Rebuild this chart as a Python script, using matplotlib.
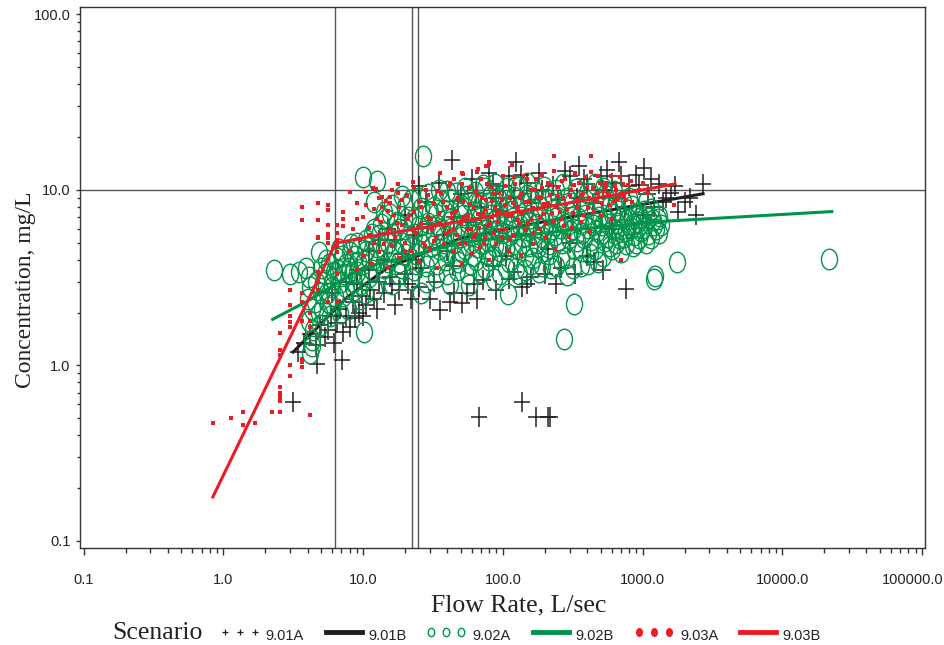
import numpy as np
import matplotlib
matplotlib.use("Agg")
import matplotlib.pyplot as plt
from matplotlib.path import Path
from matplotlib.transforms import Affine2D, ScaledTranslation
from matplotlib.lines import Line2D
from matplotlib.ticker import FixedLocator, FixedFormatter, NullFormatter

# ---- data ----
# 9.01A : black plus
plus_pts = [
    (3.13, 0.62), (4.7, 1.02), (7.1, 1.07), (68, 0.51), (138, 0.62), (174, 0.51),
    (212, 0.51), (218, 0.51), (766, 2.72), (43, 14.7), (125, 14.5), (683, 14.5),
    (353, 13.6), (1030, 13.3), (2710, 10.8), (2430, 7.2), (1480, 9.0),
    (3.4, 1.2), (3.8, 1.35), (4.2, 1.5), (4.6, 1.3), (4.9, 1.7), (5.3, 1.45),
    (5.6, 1.6), (5.9, 1.9), (6.2, 1.35), (6.5, 1.75), (6.8, 2.1), (7.2, 1.55),
    (7.6, 1.9), (8.0, 1.65), (8.4, 2.3), (8.8, 1.85), (9.3, 2.0), (9.8, 2.5),
    (10.5, 2.2), (11.2, 2.7), (12, 2.4), (13, 3.0), (14, 2.6), (16, 2.9),
    (17, 2.2), (18, 2.7), (20, 3.3), (22, 2.4), (25, 2.8), (30, 2.4), (35.5, 2.07),
    (42, 2.3), (51, 2.27), (55, 2.6), (62, 2.9), (72, 3.07), (90, 2.7),
    (110, 3.1), (138, 2.8), (150, 2.9), (200, 3.3), (260, 3.6), (330, 3.3),
    (450, 3.9), (25, 10.5), (35, 11.0), (50, 9.5), (60, 11.5), (80, 12.5),
    (100, 10.5), (110, 12.0), (150, 11.0), (180, 12.5), (230, 10.5), (300, 12.0),
    (400, 10.8), (500, 12.0), (600, 11.0), (800, 10.5), (900, 12.2), (1100, 9.5),
    (1300, 10.8), (1600, 9.6), (2000, 8.5), (1800, 7.5), (1200, 8.0),
    (15, 6.0), (20, 7.2), (28, 8.5), (45, 7.0), (70, 8.0), (90, 9.0),
    (11, 4.5), (13, 5.2), (9, 3.5), (7.5, 3.0), (6, 2.6), (24, 4.0), (40, 4.5),
    (9, 2.9), (10, 1.9), (11, 3.5), (12.5, 2.1), (14, 4.0), (15.5, 3.2), (17, 5.2),
    (19, 4.3), (21, 2.9), (23, 5.5), (26, 3.6), (29, 6.4), (32, 3.0), (38, 5.5),
    (44, 3.7), (48, 8.6), (56, 6.6), (64, 9.6), (75, 5.6), (85, 10.8), (95, 7.6),
    (105, 4.2), (120, 9.0), (135, 12.2), (160, 8.4), (190, 10.0), (210, 4.6),
    (250, 8.8), (280, 12.8), (340, 9.0), (380, 11.5), (440, 8.4), (520, 10.0),
    (560, 13.0), (650, 9.0), (700, 12.0), (750, 8.0), (950, 10.6), (1150, 11.5),
    (1400, 8.5), (1700, 10.5), (2200, 9.0), (1000, 7.2), (600, 6.0), (300, 5.0),
    (520, 3.5), (400, 4.2), (240, 2.9), (160, 3.2), (120, 3.4), (85, 3.7),
    (65, 2.4), (45, 2.6),
]
# 9.01B : black line
black_line_x = [3.15, 7.7, 15, 50, 200, 605, 2710]
black_line_y = [1.19, 2.45, 3.6, 5.3, 6.6, 7.7, 9.5]

# 9.02A : green circles
circ_pts = [
    (2.3, 3.5), (3.0, 3.3), (3.5, 3.4), (3.9, 3.6), (4.1, 3.2), (4.2, 2.8), (4.0, 2.4),
    (4.3, 2.1), (4.1, 1.8), (4.4, 1.6), (4.3, 1.4), (4.17, 1.18), (4.3, 1.29),
    (4.8, 2.0), (5.0, 2.6), (5.2, 3.0), (5.0, 3.6), (5.4, 4.0), (4.8, 4.4),
    (5.6, 2.3), (5.8, 1.9), (6.0, 2.8), (6.2, 3.4), (6.5, 4.1), (6.7, 4.6),
    (7.0, 3.0), (7.2, 2.5), (7.5, 3.8), (7.8, 2.1), (8.0, 4.4), (8.3, 3.3),
    (8.6, 2.7), (9.0, 5.0), (9.2, 3.9), (9.5, 2.4), (10.0, 11.8), (12.5, 11.3),
    (10.2, 1.55), (10.5, 4.5), (11, 3.2), (11.5, 5.6), (12, 2.7),
    (13, 4.0), (13.5, 6.4), (14, 3.3), (15, 5.0), (15.5, 7.3), (16, 2.9),
    (17, 4.4), (18, 6.0), (19, 3.6), (20, 8.0), (21, 5.2), (22, 3.1), (23, 6.8),
    (24, 4.3), (25, 9.0), (26, 2.6), (27, 15.5), (27, 5.8), (28, 3.7), (30, 7.5),
    (31, 4.8), (33, 3.2), (34, 6.3), (36, 8.6), (37, 5.3), (39, 4.0), (40, 9.8),
    (42, 2.9), (43, 6.9), (45, 5.0), (47, 3.5), (49, 7.9), (51, 4.4), (53, 6.0),
    (55, 9.2), (57.7, 2.86), (58, 3.8), (60, 5.5), (62, 7.2), (65, 4.7), (68, 8.5),
    (70, 3.4), (72, 6.3), (75, 10.2), (78, 5.1), (80, 4.0), (83, 7.6), (86, 3.1),
    (90, 6.8), (93, 9.0), (96, 4.5), (100, 5.7), (105, 3.6), (108, 2.55),
    (110, 8.2), (115, 6.2), (120, 4.9), (125, 10.5), (130, 3.3), (135, 7.0),
    (140, 5.4), (145, 4.2), (150, 9.3), (155, 6.5), (160, 3.8), (168, 7.8),
    (175, 5.0), (180, 3.4), (188, 6.0), (195, 8.8), (200, 4.5), (210, 5.7),
    (220, 3.6), (230, 7.2), (240, 10.0), (250, 5.2), (260, 4.0), (270, 6.6),
    (275, 1.42), (290, 3.27), (300, 5.8), (310, 8.4), (324, 2.23), (330, 4.6),
    (345, 6.9), (360, 3.7), (380, 5.3), (400, 9.6), (420, 4.3), (440, 6.3),
    (460, 7.7), (480, 3.9), (500, 5.6), (520, 10.3), (550, 6.8), (580, 4.8),
    (610, 6.0), (640, 8.2), (680, 5.3), (720, 7.0), (760, 5.8), (800, 9.0),
    (850, 6.4), (900, 5.0), (950, 7.3), (1000, 6.1), (1050, 8.5), (1100, 5.6),
    (1180, 6.7), (1236, 3.22), (1200, 3.1), (1250, 6.0), (1300, 7.1), (1320, 5.7),
    (1750, 3.87), (21700, 4.03),
    (10.5, 5.2), (11, 4.1), (11.5, 3.5), (12, 6.0), (12.5, 4.7), (13, 5.5),
    (14, 4.6), (14.5, 6.8), (15, 3.9), (16, 5.6), (16.5, 4.5), (17.5, 6.6),
    (18, 3.9), (19, 5.0), (20, 4.3), (20, 6.0), (21, 7.0), (22, 4.7), (23, 5.6),
    (24, 3.8), (25, 6.2), (26, 4.9), (28, 5.3), (29, 6.5), (30, 4.2), (32, 5.6),
    (33, 7.3), (35, 4.6), (36, 6.0), (38, 5.0), (40, 4.4), (41, 6.6), (44, 5.8),
    (46, 4.1), (48, 6.2), (50, 5.4), (52, 7.2), (54, 4.6), (56, 6.5), (59, 5.0),
    (61, 4.2), (63, 6.1), (66, 5.6), (69, 6.9), (71, 4.9), (74, 5.9), (77, 4.3),
    (79, 6.8), (82, 5.4), (85, 6.2), (88, 4.8), (92, 5.9), (95, 7.2), (98, 5.0),
    (102, 6.5), (106, 4.6), (112, 5.5), (118, 6.9), (122, 5.9), (128, 4.6),
    (133, 6.3), (138, 5.0), (143, 7.5), (148, 5.9), (153, 4.8), (158, 6.9),
    (165, 5.6), (172, 6.4), (178, 4.7), (185, 7.0), (192, 5.4), (205, 6.5),
    (215, 4.9), (225, 6.0), (235, 5.5), (245, 7.0), (255, 6.1), (265, 5.0),
    (280, 6.4), (295, 5.3), (305, 7.0), (320, 6.0), (340, 5.1), (355, 6.5),
    (370, 5.7), (390, 7.2), (410, 6.1), (430, 5.2), (450, 6.6), (470, 5.8),
    (490, 7.0), (510, 6.3), (540, 5.1), (570, 6.4), (600, 7.3), (630, 5.6),
    (660, 6.5), (700, 6.0), (740, 5.4), (780, 6.8), (820, 6.1), (870, 5.5),
    (920, 6.6), (980, 5.8),
    (4.5, 2.3), (4.6, 3.0), (4.9, 1.7), (5.1, 2.1), (5.3, 3.3), (5.5, 2.6),
    (5.7, 3.8), (5.9, 2.2), (6.1, 3.1), (6.3, 2.5), (6.6, 3.5), (6.8, 2.0),
    (7.1, 4.2), (7.3, 3.3), (7.6, 2.8), (7.9, 3.6), (8.2, 4.9), (8.5, 3.0),
    (8.8, 4.2), (9.1, 3.4), (9.4, 4.6), (9.7, 2.9), (10, 3.8), (10.3, 2.6),
    (12, 8.5), (14, 7.5), (16, 8.2), (19, 9.2), (22, 8.8), (26, 7.9), (29, 9.5),
    (32, 8.0), (35, 10.0), (38, 7.7), (42, 8.9), (46, 9.6), (50, 8.2), (54, 10.3),
    (58, 8.8), (63, 9.7), (67, 7.5), (72, 10.6), (77, 8.4), (82, 9.3), (88, 10.8),
    (94, 8.0), (100, 9.4), (107, 10.2), (114, 7.6), (121, 9.1), (130, 10.4),
    (139, 8.4), (148, 10.9), (158, 8.8), (170, 9.7), (182, 8.1), (196, 10.4),
    (212, 8.7), (228, 9.4), (248, 8.0), (268, 10.8), (290, 9.0), (315, 7.6),
    (335, 10.1), (365, 8.6), (395, 8.0), (425, 9.5), (455, 10.8), (495, 8.7),
    (535, 9.4), (575, 8.0), (620, 9.9), (670, 7.6), (720, 8.6), (780, 7.7),
    (840, 8.1), (900, 7.3), (960, 6.9), (1020, 7.6), (1100, 6.9), (1150, 7.8),
    (1200, 6.3), (1280, 6.8), (1350, 6.3),
    (14, 3.6), (18, 3.3), (23, 3.5), (28, 3.0), (34, 3.8), (40, 3.3), (48, 3.9),
    (56, 3.3), (64, 4.0), (75, 3.6), (85, 4.2), (95, 3.3), (110, 3.9), (125, 3.6),
    (145, 3.5), (165, 4.1), (190, 3.7), (215, 4.3), (240, 3.7), (285, 4.1),
    (320, 3.6), (370, 4.5), (410, 3.8), (460, 4.6), (520, 4.2), (560, 5.4),
    (600, 4.6), (650, 5.0), (700, 4.4), (760, 4.9), (860, 4.8), (950, 5.3),
    (1050, 5.0), (1150, 5.3),
]
# 9.02B : green line
green_line_x = [2.25, 3.94, 10, 50, 300, 1334, 22600]
green_line_y = [1.83, 2.31, 3.6, 5.0, 5.9, 6.6, 7.52]

# 9.03A : red dots
dot_pts = [
    (0.84, 0.47), (1.13, 0.5), (1.39, 0.54), (1.39, 0.46), (1.67, 0.47), (2.21, 0.54),
    (2.55, 0.54), (2.55, 0.63), (2.55, 0.66), (2.55, 0.70), (2.55, 0.75),
    (2.55, 1.15), (2.55, 1.23), (2.55, 1.53), (3.0, 0.87), (3.0, 1.0), (3.0, 1.65),
    (3.0, 1.77), (3.0, 1.9), (3.0, 2.2), (3.0, 2.69), (3.66, 0.98), (3.66, 1.04),
    (3.66, 1.09), (3.66, 1.8), (3.66, 2.3), (3.66, 2.6), (4.2, 0.52), (4.17, 1.65),
    (4.17, 1.8), (4.17, 2.0), (4.75, 2.7), (4.75, 3.0), (4.75, 3.4), (4.75, 5.4),
    (5.6, 5.0), (5.6, 5.3), (5.6, 5.6), (6.5, 4.4), (6.5, 4.8), (6.5, 3.3),
    (6.5, 2.3), (5.6, 2.3), (3.63, 8.0), (3.63, 6.7), (4.75, 8.4), (4.75, 6.7),
    (4.75, 5.3), (5.6, 8.2), (5.6, 7.7), (5.6, 6.3), (8.05, 9.75), (6.5, 6.3),
    (6.5, 5.7), (6.5, 5.2), (7.2, 7.5), (7.2, 6.8), (7.2, 6.2), (9.1, 8.4),
    (10.5, 9.75), (11.8, 10.2), (12.3, 10.1), (13.7, 9.1), (13.7, 8.0),
    (15.5, 9.1), (15.5, 8.4), (17.7, 10.8), (17.7, 9.6), (22.7, 11.1),
    (35.5, 12.5), (52, 12.3), (65, 12.6), (79, 14.1),
    (8, 4.5), (8.5, 6.0), (9, 3.5), (9.5, 5.2), (10, 7.0), (10, 4.2), (11, 6.1),
    (11.5, 3.8), (12, 5.0), (12, 7.8), (13, 4.4), (13.5, 6.6), (14, 5.6),
    (14.5, 8.6), (15, 3.6), (15.5, 6.0), (16, 4.8), (16.5, 7.2), (17, 5.4),
    (18, 8.0), (18.5, 4.1), (19, 6.3), (20, 5.0), (20.5, 9.3), (21, 6.8),
    (22, 4.5), (23, 7.5), (24, 5.7), (25, 3.9), (25, 8.5), (26, 6.4), (27, 5.0),
    (28, 10.0), (29, 7.0), (30, 4.6), (31, 6.0), (32, 8.3), (33, 5.3), (34, 3.6),
    (35, 7.3), (36, 9.5), (37, 6.3), (38, 4.9), (40, 8.0), (41, 5.8), (42, 11.0),
    (43, 6.9), (44, 4.4), (46, 7.6), (47, 5.5), (48, 9.0), (50, 6.5), (51, 3.8),
    (52, 8.5), (54, 5.0), (56, 7.1), (57, 10.2), (59, 6.0), (60, 4.3), (62, 7.9),
    (64, 5.6), (65, 9.4), (67, 6.8), (69, 4.7), (70, 11.5), (72, 7.4), (74, 5.3),
    (76, 8.8), (78, 6.2), (80, 4.0), (82, 10.4), (84, 7.0), (86, 5.7), (88, 8.0),
    (90, 4.9), (92, 6.6), (94, 9.6), (96, 7.6), (98, 5.4), (100, 12.0),
    (103, 8.2), (106, 6.0), (110, 4.5), (113, 9.0), (116, 7.1), (120, 5.5),
    (123, 10.8), (127, 8.0), (130, 6.4), (134, 4.2), (138, 9.5), (142, 7.5),
    (146, 5.9), (150, 11.5), (155, 8.6), (160, 6.8), (165, 4.9), (170, 10.0),
    (175, 7.8), (180, 6.0), (186, 9.0), (192, 12.2), (198, 7.3), (205, 5.3),
    (212, 8.4), (220, 10.6), (228, 6.6), (236, 4.6), (245, 9.2), (255, 7.5),
    (265, 11.2), (275, 6.2), (285, 8.3), (295, 5.4), (305, 10.0), (318, 7.4),
    (330, 12.5), (345, 8.8), (360, 6.6), (375, 9.6), (390, 11.8), (405, 7.9),
    (420, 5.8), (440, 10.3), (460, 8.6), (480, 12.0), (500, 7.1), (525, 9.8),
    (550, 11.0), (575, 8.2), (600, 6.8), (630, 10.5), (660, 8.9), (693, 11.9),
    (705, 3.97), (740, 9.3), (780, 10.6), (845, 8.5), (900, 9.8), (1000, 11.0),
    (1690, 8.2), (234, 15.5), (424, 15.6), (79, 14.5), (76, 13.6), (66, 13.1),
    (117, 13.8), (51, 12.4), (45, 11.6),
    (9, 6.8), (10.5, 8.2), (11, 5.5), (12.5, 6.8), (13, 9.0), (14, 4.9), (15, 7.6),
    (16, 10.0), (17.5, 6.5), (19, 8.8), (20, 4.4), (21.5, 7.2), (23, 10.3),
    (24.5, 6.1), (26, 8.0), (27.5, 4.8), (29, 9.3), (30.5, 6.8), (32, 5.1),
    (33.5, 9.9), (35, 6.5), (37, 8.5), (39, 5.6), (41, 10.5), (43, 7.4), (45, 6.0),
    (47, 8.8), (49, 4.9), (51, 10.8), (53, 7.0), (55, 6.0), (58, 8.3), (61, 5.4),
    (63, 9.8), (66, 7.3), (68, 6.1), (71, 9.0), (73, 5.0), (75, 7.8), (77, 10.8),
    (81, 6.5), (83, 8.6), (87, 9.5), (91, 7.3), (95, 5.9), (99, 8.7), (104, 10.5),
    (108, 7.1), (112, 5.2), (118, 8.4), (121, 11.8), (126, 6.7), (132, 9.0),
    (136, 7.3), (140, 12.0), (145, 8.5), (152, 6.5), (158, 10.0), (163, 7.9),
    (168, 5.7), (173, 11.5), (178, 9.0), (184, 7.0), (190, 10.2), (196, 8.3),
    (202, 6.4), (210, 11.0), (217, 9.3), (225, 7.4), (233, 12.8), (242, 8.0),
    (250, 10.4), (260, 6.8), (270, 9.0), (280, 11.5), (290, 7.8), (300, 9.3),
    (312, 6.1), (325, 10.6), (338, 8.0), (350, 11.0), (365, 9.3), (380, 7.2),
    (398, 10.2), (415, 9.0), (430, 12.6), (450, 7.5), (470, 9.6), (495, 11.0),
    (515, 8.4), (540, 10.3), (565, 9.6), (590, 12.0), (620, 8.6), (650, 10.0),
    (680, 9.3), (720, 10.8), (760, 8.8), (820, 11.2), (950, 10.0), (1100, 9.6),
]
# 9.03B : red line
red_line_x = [0.84, 6.35, 11.2, 58, 302, 1710]
red_line_y = [0.178, 4.97, 5.42, 6.75, 8.43, 10.8]

# reference lines
ref_flow = [6.3, 22.4, 24.8]
ref_conc = [10.0]

scenarios = ["9.01A", "9.01B", "9.02A", "9.02B", "9.03A", "9.03B"]

BLACK = "#231f20"
GREEN = "#00934a"
RED = "#ed1c24"

plus_marker = Path([(-0.42, 0), (0.42, 0), (0, -0.5), (0, 0.5)],
                   [Path.MOVETO, Path.LINETO, Path.MOVETO, Path.LINETO])
oval_marker = Path.unit_circle().transformed(Affine2D().scale(0.78, 1.0))
dot_marker = Path.unit_rectangle().transformed(Affine2D().translate(-0.5, -0.5).scale(0.75, 1.0))

fig = plt.figure(figsize=(9.45, 6.45), dpi=100)
ax = fig.add_axes([80 / 945, 1 - 548 / 645, 845 / 945, 541 / 645])
ax.set_xscale("log")
ax.set_yscale("log")
ax.set_xlim(0.0941, 1.05e5)
ax.set_ylim(0.0912, 110)

for xv in ref_flow:
    ax.axvline(xv, color="#555555", lw=1.0, zorder=1)
for yv in ref_conc:
    ax.axhline(yv, color="#555555", lw=1.0, zorder=1)

px, py = zip(*plus_pts)
ax.plot(px, py, ls="none", marker=plus_marker, ms=14.4, mec=BLACK, mew=1.1, zorder=2)
ax.plot(black_line_x, black_line_y, color=BLACK, lw=2.2, zorder=2)

cx, cy = zip(*circ_pts)
ax.plot(cx, cy, ls="none", marker=oval_marker, ms=14.8, mfc="none", mec=GREEN, mew=1.0, zorder=3)
ax.plot(green_line_x, green_line_y, color=GREEN, lw=2.2, zorder=3)

dx, dy = zip(*dot_pts)
ax.plot(dx, dy, ls="none", marker=dot_marker, ms=3.4, mfc=RED, mec=RED, mew=0, zorder=4)
ax.plot(red_line_x, red_line_y, color=RED, lw=2.2, zorder=4)

# axes styling
for s in ax.spines.values():
    s.set_color("#333333")
    s.set_linewidth(1.0)

xt = [0.1, 1, 10, 100, 1000, 10000, 100000]
ax.xaxis.set_major_locator(FixedLocator(xt))
ax.xaxis.set_major_formatter(FixedFormatter(["0.1", "1.0", "10.0", "100.0", "1000.0", "10000.0", "100000.0"]))
xminor = [m * 10.0 ** e for e in range(-1, 5) for m in range(2, 10)]
ax.xaxis.set_minor_locator(FixedLocator(xminor))
ax.xaxis.set_minor_formatter(NullFormatter())

yt = [0.1, 1, 10, 100]
ax.yaxis.set_major_locator(FixedLocator(yt))
ax.yaxis.set_major_formatter(FixedFormatter(["0.1", "1.0", "10.0", "100.0"]))
yminor = [m * 10.0 ** e for e in range(-1, 2) for m in range(2, 10)]
ax.yaxis.set_minor_locator(FixedLocator(yminor))
ax.yaxis.set_minor_formatter(NullFormatter())

ax.tick_params(axis="x", which="major", direction="out", length=5, width=1, pad=13,
               labelsize=10.5, colors="#333333", labelcolor="#222222")
ax.tick_params(axis="x", which="minor", direction="out", length=3.5, width=1, colors="#333333")
ax.tick_params(axis="y", which="major", direction="out", length=3, width=1, pad=4,
               labelsize=10.5, colors="#333333", labelcolor="#222222")
ax.tick_params(axis="y", which="minor", direction="out", length=2, width=1, colors="#333333")
for lab in ax.get_xticklabels() + ax.get_yticklabels():
    lab.set_fontfamily("Liberation Sans")

# last x tick label sits flush with the right edge, as in the source chart
last = ax.xaxis.get_major_ticks()[-1].label1
last.set_horizontalalignment("right")
last.set_transform(last.get_transform() + ScaledTranslation(0.215, 0, fig.dpi_scale_trans))

fig.text(519 / 945, 1 - 605 / 645, "Flow Rate, L/sec", family="Liberation Serif",
         fontsize=18.5, ha="center", va="center", color="#222222")
fig.text(26 / 945, 1 - 290 / 645, "Concentration, mg/L", family="Liberation Serif",
         fontsize=17, ha="center", va="center", rotation=90, color="#222222")

# legend row
ly = 1 - 633 / 645
fig.text(112 / 945, ly, "Scenario", family="Liberation Serif", fontsize=18.5,
         ha="left", va="center", color="#222222")
leg_small_plus = Path([(-0.5, 0), (0.5, 0), (0, -0.5), (0, 0.5)],
                      [Path.MOVETO, Path.LINETO, Path.MOVETO, Path.LINETO])
items = [
    (222, dict(ls="none", marker=leg_small_plus, ms=4.5, mec=BLACK, mew=0.9), 265),
    (326, dict(color=BLACK, lw=3.5), 368),
    (428, dict(ls="none", marker=oval_marker, ms=6.0, mfc="none", mec=GREEN, mew=1.0), 472),
    (533, dict(color=GREEN, lw=3.5), 575),
    (636, dict(ls="none", marker=oval_marker, ms=6.5, mfc=RED, mec=RED, mew=0), 680),
    (740, dict(color=RED, lw=3.5), 782),
]
for (x0, style, tx), name in zip(items, scenarios):
    if style.get("marker") is not None:
        xs = [(x0 + 3) / 945, (x0 + 18) / 945, (x0 + 33) / 945]
    else:
        xs = [x0 / 945, (x0 + 36) / 945]
    fig.add_artist(Line2D(xs, [ly + 0.002] * len(xs), transform=fig.transFigure, **style))
    fig.text(tx / 945, ly - 0.004, name, family="Liberation Sans", fontsize=10.5,
             ha="left", va="center", color="#222222")

fig.savefig("out.png", dpi=100)
